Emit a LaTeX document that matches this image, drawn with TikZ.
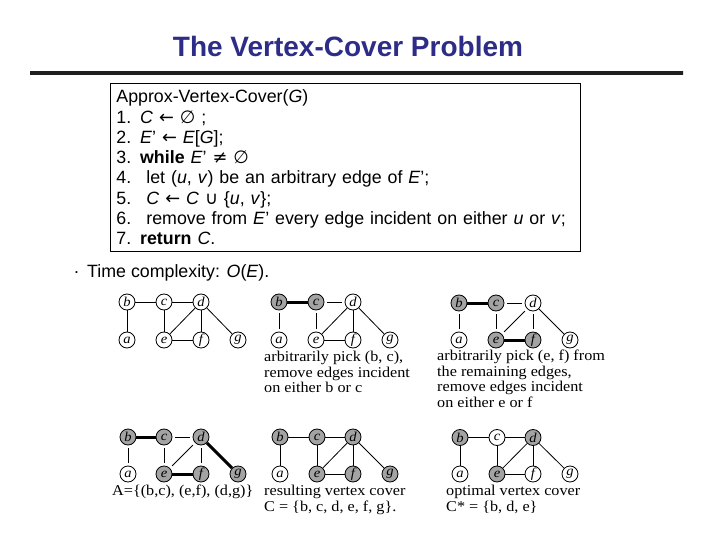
\documentclass[tikz,border=0pt]{standalone}
\usepackage{fontspec}
\setmainfont{Liberation Sans}
\newfontfamily\capserif{Liberation Serif}[FakeStretch=1.08]
\newfontfamily\symfont{DejaVu Sans}
\usepackage{xcolor}
\usepackage{tikz}

\definecolor{titleblue}{RGB}{45,45,135}

\begin{document}
\begin{tikzpicture}[
  x=1pt, y=-1pt,
  vtx/.style={draw, circle, minimum size=16pt, inner sep=0pt, line width=0.8pt, fill=white, font=\fontsize{13.5}{13.5}\selectfont\capserif\itshape},
  cov/.style={vtx, fill=black!36},
  edge/.style={line width=0.8pt},
  gone/.style={line width=0.8pt, shorten <=3pt, shorten >=3pt},
  pick/.style={line width=3pt},
  caption/.style={anchor=north west, align=left, inner sep=0pt, font=\fontsize{15}{15.5}\selectfont\capserif}
]
\useasboundingbox (0,0) rectangle (720,540);

\node[font=\fontsize{28}{28}\selectfont\bfseries, text=titleblue] (title) at (348,46) {The Vertex-Cover Problem};
\shade[left color=black!88, middle color=black!28, right color=black!88] (30,71.5) rectangle (683,74.5);

\node[draw, line width=0.8pt, anchor=north west, minimum width=470pt, minimum height=168pt, text width=458pt, inner xsep=6pt, align=left, font=\fontsize{17.8}{20.3}\selectfont] (algo) at (110,83) {Approx-Vertex-Cover(\textit{G})\\
1. \textit{C} {\symfont ←} {\symfont ∅} ;\\
2. \textit{E}' {\symfont ←} \textit{E}[\textit{G}];\\
3. \textbf{while} \textit{E}' {\symfont ≠} {\symfont ∅}\\
\makebox[30pt][l]{4.}let (\textit{u}, \textit{v}) be an arbitrary edge of \textit{E}';\\
\makebox[30pt][l]{5.}\textit{C} {\symfont ←} \textit{C} {\symfont ∪} \{\textit{u}, \textit{v}\};\\
\makebox[30pt][l]{6.}remove from \textit{E}' every edge incident on either \textit{u} or \textit{v};\\
7. \textbf{return} \textit{C}.};

\node[anchor=west, inner sep=0pt, font=\fontsize{17.8}{20}\selectfont] (dot) at (74,273) {.};
\node[anchor=west, inner sep=0pt, font=\fontsize{17.8}{20}\selectfont] (cmplx) at (87,273) {Time complexity: \textit{O}(\textit{E}).};

% initial graph
\node[vtx] (g1b) at (127,302) {b};
\node[vtx] (g1c) at (164,302) {c};
\node[vtx] (g1d) at (201,302) {d};
\node[vtx] (g1a) at (127,340) {a};
\node[vtx] (g1e) at (164,340) {e};
\node[vtx] (g1f) at (201,340) {f};
\node[vtx] (g1g) at (238,340) {g};
\draw[edge] (g1b) -- (g1c);
\draw[edge] (g1c) -- (g1d);
\draw[edge] (g1b) -- (g1a);
\draw[edge] (g1c) -- (g1e);
\draw[edge] (g1d) -- (g1e);
\draw[edge] (g1d) -- (g1f);
\draw[edge] (g1e) -- (g1f);
\draw[edge] (g1d) -- (g1g);

% pick (b,c)
\node[cov] (g2b) at (279,302) {b};
\node[cov] (g2c) at (316,302) {c};
\node[vtx] (g2d) at (353,302) {d};
\node[vtx] (g2a) at (279,340) {a};
\node[vtx] (g2e) at (316,340) {e};
\node[vtx] (g2f) at (353,340) {f};
\node[vtx] (g2g) at (390,340) {g};
\draw[pick] (g2b) -- (g2c);
\draw[gone] (g2c) -- (g2d);
\draw[gone] (g2b) -- (g2a);
\draw[gone] (g2c) -- (g2e);
\draw[edge] (g2d) -- (g2e);
\draw[edge] (g2d) -- (g2f);
\draw[edge] (g2e) -- (g2f);
\draw[edge] (g2d) -- (g2g);
\node[caption] (cap2) at (264,351) {arbitrarily pick (b, c),\\remove edges incident\\on either b or c};

% pick (e,f)
\node[cov] (g3b) at (459,303) {b};
\node[cov] (g3c) at (496,303) {c};
\node[vtx] (g3d) at (533,303) {d};
\node[vtx] (g3a) at (459,340) {a};
\node[cov] (g3e) at (496,340) {e};
\node[cov] (g3f) at (533,340) {f};
\node[vtx] (g3g) at (570,340) {g};
\draw[pick] (g3b) -- (g3c);
\draw[pick] (g3e) -- (g3f);
\draw[gone] (g3c) -- (g3d);
\draw[gone] (g3b) -- (g3a);
\draw[gone] (g3c) -- (g3e);
\draw[gone] (g3d) -- (g3e);
\draw[gone] (g3d) -- (g3f);
\draw[edge] (g3d) -- (g3g);
\node[caption] (cap3) at (437,350) {arbitrarily pick (e, f) from\\the remaining edges,\\remove edges incident\\on either e or f};

% picked edges A
\node[cov] (g4b) at (128,437) {b};
\node[cov] (g4c) at (164,437) {c};
\node[cov] (g4d) at (201,437) {d};
\node[vtx] (g4a) at (128,474) {a};
\node[cov] (g4e) at (164,474) {e};
\node[cov] (g4f) at (201,474) {f};
\node[cov] (g4g) at (238,474) {g};
\draw[pick] (g4b) -- (g4c);
\draw[pick] (g4e) -- (g4f);
\draw[pick] (g4d) -- (g4g);
\draw[gone] (g4c) -- (g4d);
\draw[gone] (g4b) -- (g4a);
\draw[gone] (g4c) -- (g4e);
\draw[gone] (g4d) -- (g4e);
\draw[gone] (g4d) -- (g4f);
\node[caption] (cap4) at (112,485) {A=\{(b,c), (e,f), (d,g)\}};

% resulting cover
\node[cov] (g5b) at (280,437) {b};
\node[cov] (g5c) at (317,437) {c};
\node[cov] (g5d) at (353,437) {d};
\node[vtx] (g5a) at (280,474) {a};
\node[cov] (g5e) at (317,474) {e};
\node[cov] (g5f) at (353,474) {f};
\node[cov] (g5g) at (390,474) {g};
\draw[edge] (g5b) -- (g5c);
\draw[edge] (g5c) -- (g5d);
\draw[edge] (g5b) -- (g5a);
\draw[edge] (g5c) -- (g5e);
\draw[edge] (g5d) -- (g5e);
\draw[edge] (g5d) -- (g5f);
\draw[edge] (g5e) -- (g5f);
\draw[edge] (g5d) -- (g5g);
\node[caption] (cap5) at (264,485) {resulting vertex cover\\C = \{b, c, d, e, f, g\}.};

% optimal cover
\node[cov] (g6b) at (460,437.5) {b};
\node[vtx] (g6c) at (497,437.5) {c};
\node[cov] (g6d) at (533,437.5) {d};
\node[vtx] (g6a) at (460,474) {a};
\node[cov] (g6e) at (497,474) {e};
\node[vtx] (g6f) at (533,474) {f};
\node[vtx] (g6g) at (570,474) {g};
\draw[edge] (g6b) -- (g6c);
\draw[edge] (g6c) -- (g6d);
\draw[edge] (g6b) -- (g6a);
\draw[edge] (g6c) -- (g6e);
\draw[edge] (g6d) -- (g6e);
\draw[edge] (g6d) -- (g6f);
\draw[edge] (g6e) -- (g6f);
\draw[edge] (g6d) -- (g6g);
\node[caption] (cap6) at (446,485) {optimal vertex cover\\C* = \{b, d, e\}};
\end{tikzpicture}
\end{document}
